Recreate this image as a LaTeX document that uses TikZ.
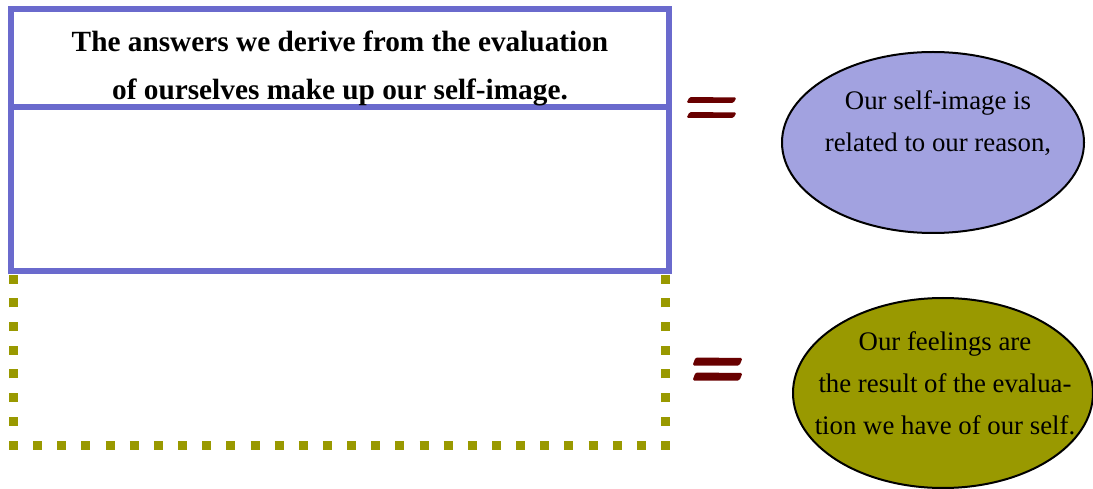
\documentclass[tikz,border=0pt]{standalone}
\usepackage{fontspec}
\setmainfont{Liberation Serif}
\usetikzlibrary{shapes.geometric}
\definecolor{boxblue}{RGB}{106,106,205}
\definecolor{dotolive}{RGB}{153,153,0}
\definecolor{lavender}{RGB}{162,162,224}
\definecolor{eqred}{RGB}{104,0,0}
\tikzset{
  bluebox/.style={draw=boxblue, line width=6pt, fill=white, inner sep=0pt, outer sep=0pt},
  dotline/.style={draw=dotolive, line width=9pt, dash pattern=on 9pt off 14.7pt},
  dotlineh/.style={draw=dotolive, line width=9pt, dash pattern=on 9pt off 15.15pt},
  oval/.style={ellipse, draw=black, line width=2pt, inner sep=0pt},
  titletext/.style={font=\fontsize{29.3}{48}\selectfont\bfseries, align=center, inner sep=0pt},
  ovaltext/.style={font=\fontsize{26.8}{42}\selectfont, align=center, inner sep=0pt},
  pics/eqsign/.style args={#1}{code={
    \fill[eqred, rounded corners=1.5pt] (-25,#1/2-7.5) -- (-22,-#1/2-7.5) -- (25,-#1/2-7.5+0.5) -- (22,#1/2-7.5) -- cycle;
    \fill[eqred, rounded corners=1.5pt] (-25,#1/2+7.5) -- (-22,-#1/2+7.5) -- (25,-#1/2+7.5+0.5) -- (22,#1/2+7.5) -- cycle;
  }}
}
\begin{document}
\begin{tikzpicture}[x=1pt,y=-1pt]
\useasboundingbox (0,0) rectangle (1093,489);
% dotted olive rectangle
\coordinate (dl) at (13.5,449.5);
\coordinate (dlh) at (9,445);
\coordinate (drh) at (670,445);
\coordinate (dr) at (665.5,449.5);
\coordinate (tl) at (13.5,270);
\coordinate (tr) at (665.5,270);
\draw[dotline] (dl) -- (tl);
\draw[dotlineh] (dlh) -- (drh);
\draw[dotline] (dr) -- (tr);
% blue boxes
\node[bluebox, minimum width=658pt, minimum height=164pt, anchor=north west] (lower) at (11,107) {};
\node[bluebox, minimum width=658pt, minimum height=98pt, anchor=north west] (upper) at (11,9) {};
\node[titletext] (title) at (340,68) {The answers we derive from the evaluation\\of ourselves make up our self-image.};
% equals signs
\pic (eq1) at (711.5,107.5) {eqsign={6}};
\pic (eq2) at (717.5,369) {eqsign={8}};
% ellipses
\node[oval, fill=lavender, minimum width=302pt, minimum height=181pt] (e1) at (933,142.5) {};
\node[ovaltext] (t1) at (938,123.5) {Our self-image is\\related to our reason,};
\node[oval, fill=dotolive, minimum width=300pt, minimum height=190pt] (e2) at (943,393) {};
\node[ovaltext] (t2) at (945,383) {Our feelings are\\the result of the evalua-\\tion we have of our self.};
\end{tikzpicture}
\end{document}
